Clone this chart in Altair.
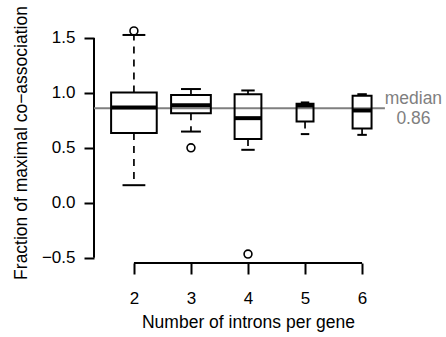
import altair as alt
import numpy as np
import pandas as pd

# Box statistics of co-association fraction, grouped by intron count
introns = [2, 3, 4, 5, 6]
genes_per_group = [29, 22, 10, 4, 5]
whisker_low = [0.16, 0.648, 0.482, 0.625, 0.618]
quartile_1 = [0.634, 0.815, 0.58, 0.739, 0.677]
group_median = [0.866, 0.888, 0.77, 0.885, 0.84]
quartile_3 = [1.003, 0.98, 0.987, 0.90, 0.973]
whisker_high = [1.527, 1.035, 1.022, 0.913, 0.988]

# Points beyond the whiskers
outlier_introns = [2, 3, 4]
outlier_values = [1.564, 0.5, -0.467]

overall_median = 0.86
y_ticks = [-0.5, 0.0, 0.5, 1.0, 1.5]

W, H = 308, 241
FONT = "Liberation Sans"
GREY = "#7f7f7f"

# variable-width boxes: width grows with sqrt(group size)
n = np.array(genes_per_group, dtype=float)
half = 0.4 * np.sqrt(n / n.max())
x = np.array(introns, dtype=float)
boxes = pd.DataFrame({
    "introns": introns,
    "lo": whisker_low,
    "q1": quartile_1,
    "med": group_median,
    "q3": quartile_3,
    "hi": whisker_high,
    "left": x - half,
    "right": x + half,
    "cap_left": x - half / 2,
    "cap_right": x + half / 2,
})
outliers = pd.DataFrame({"introns": outlier_introns, "value": outlier_values})

x_dom = [1.3, 6.7]
y_dom = [-0.548, 1.645]
xs = alt.Scale(domain=x_dom, nice=False, zero=False)
ys = alt.Scale(domain=y_dom, nice=False, zero=False)

x_axis = alt.Axis(values=introns, format="d", title="Number of introns per gene",
                  tickSize=11, labelPadding=16, titlePadding=7, labelFlush=False)
y_axis = alt.Axis(values=y_ticks, format=".1f", title="Fraction of maximal co\u2212association",
                  tickSize=10, labelPadding=9, titlePadding=11, labelFlush=False)


def X(field):
    return alt.X(field, type="quantitative", scale=xs, axis=x_axis)


def Y(field):
    return alt.Y(field, type="quantitative", scale=ys, axis=y_axis)


base = alt.Chart(boxes)

# axis lines spanning first to last tick only
yline = alt.Chart(pd.DataFrame({"x": [x_dom[0]], "y": [max(y_ticks)], "y2": [min(y_ticks)]})).mark_rule(
    color="black", strokeWidth=2).encode(x=X("x"), y=Y("y"), y2="y2")
xline = alt.Chart(pd.DataFrame({"x": [min(introns)], "x2": [max(introns)], "y": [y_dom[0]]})).mark_rule(
    color="black", strokeWidth=2).encode(x=X("x"), x2="x2", y=Y("y"))

med_df = pd.DataFrame({"x": [x_dom[0]], "x2": [6.4], "y": [overall_median],
                       "tx": [6.9], "label": [f"median\n{overall_median:.2f}"]})
med_line = alt.Chart(med_df).mark_rule(color=GREY, strokeWidth=2).encode(
    x=X("x"), x2="x2", y=Y("y"))
med_text = alt.Chart(med_df).mark_text(
    color=GREY, font=FONT, fontSize=17.5, lineBreak="\n", lineHeight=19.5,
    align="center", baseline="middle", dy=-9).encode(
    x=X("tx"), y=Y("y"), text="label:N")

whisk_up = base.mark_rule(color="black", strokeWidth=1.7, strokeDash=[7, 6]).encode(
    x=X("introns"), y=Y("q3"), y2="hi")
whisk_dn = base.mark_rule(color="black", strokeWidth=1.7, strokeDash=[7, 6]).encode(
    x=X("introns"), y=Y("q1"), y2="lo")
cap_up = base.mark_rule(color="black", strokeWidth=2).encode(
    x=X("cap_left"), x2="cap_right", y=Y("hi"))
cap_dn = base.mark_rule(color="black", strokeWidth=2).encode(
    x=X("cap_left"), x2="cap_right", y=Y("lo"))
box = base.mark_rect(fillOpacity=0, stroke="black", strokeWidth=2).encode(
    x=X("left"), x2="right", y=Y("q1"), y2="q3")
medians = base.mark_rule(color="black", strokeWidth=4).encode(
    x=X("left"), x2="right", y=Y("med"))
points = alt.Chart(outliers).mark_point(
    shape="circle", filled=False, color="black", size=62, strokeWidth=1.6, opacity=1).encode(
    x=X("introns"), y=Y("value"))

chart = alt.layer(
    yline, xline, med_line, whisk_up, whisk_dn, cap_up, cap_dn, box, medians, points, med_text
).properties(
    width=W, height=H,
    autosize=alt.AutoSizeParams(type="none"),
    padding={"left": 94, "top": 22, "right": 446 - 94 - W, "bottom": 337 - 22 - H},
    background="white",
).configure_view(stroke=None).configure_axis(
    domain=False, grid=False, ticks=True, tickColor="black", tickWidth=2,
    labelFont=FONT, labelFontSize=17, labelColor="black", labelOverlap=False,
    titleFont=FONT, titleFontSize=17.5, titleFontWeight="normal", titleColor="black",
)

chart.save("out.html", embed_options={"renderer": "svg", "actions": False})
